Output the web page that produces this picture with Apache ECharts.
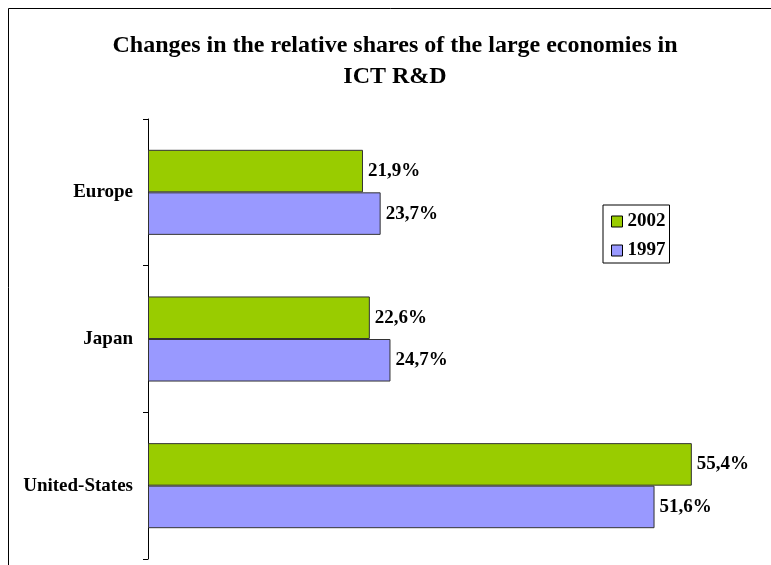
<!DOCTYPE html>
<html><head><meta charset="utf-8">
<script src="https://cdn.jsdelivr.net/npm/echarts@6/dist/echarts.min.js"></script>
<style>html,body{margin:0;padding:0;background:#fff}#c{width:771px;height:565px}</style>
</head><body><div id="c"></div>
<script>
const categories = ['United-States', 'Japan', 'Europe'];
const values1997 = [51.6, 24.7, 23.7];
const values2002 = [55.4, 22.6, 21.9];
const seriesNames = ['2002', '1997'];
const titleText = 'Changes in the relative shares of the large economies in\nICT R&D';

const FONT = '"Liberation Serif","Times New Roman",serif';
const fmt = p => p.value.toFixed(1).replace('.', ',') + '%';
const labelStyle = {show: true, position: 'right', distance: 5, formatter: fmt, fontFamily: FONT, fontWeight: 'bold', fontSize: 19, color: '#000'};
const chart = echarts.init(document.getElementById('c'));
chart.setOption({
  backgroundColor: '#fff',
  animation: false,
  graphic: [
    {type: 'rect', shape: {x: 8.5, y: 8.5, width: 800, height: 600}, style: {fill: 'none', stroke: '#000', lineWidth: 1}},
    {type: 'text', x: 395, y: 31, style: {text: titleText, align: 'center', verticalAlign: 'top',
      fontFamily: FONT, fontWeight: 'bold', fontSize: 24, lineHeight: 30.5, fill: '#000'}}
  ],
  legend: {
    data: seriesNames,
    orient: 'vertical',
    left: 603, top: 205,
    icon: 'rect',
    itemWidth: 11, itemHeight: 11, itemGap: 10,
    padding: [7, 4, 3, 8],
    borderColor: '#000', borderWidth: 1,
    textStyle: {fontFamily: FONT, fontWeight: 'bold', fontSize: 19, color: '#000'},
    itemStyle: {borderColor: '#000', borderWidth: 1}
  },
  grid: {left: 148, top: 119, width: 589, height: 440, containLabel: false},
  xAxis: {type: 'value', min: 0, max: 60, show: false},
  yAxis: {
    type: 'category', data: categories,
    axisLine: {lineStyle: {color: '#000', width: 1}},
    axisTick: {show: true, length: 5, lineStyle: {color: '#000'}},
    axisLabel: {fontFamily: FONT, fontWeight: 'bold', fontSize: 19, color: '#000', margin: 15},
    splitLine: {show: false}
  },
  series: [
    {name: '2002', type: 'bar', data: values2002, barCategoryGap: '42%', barGap: '0%',
     itemStyle: {color: '#99CC00', borderColor: '#333', borderWidth: 1},
     label: labelStyle},
    {name: '1997', type: 'bar', data: values1997, barCategoryGap: '42%', barGap: '0%',
     itemStyle: {color: '#9999FF', borderColor: '#333', borderWidth: 1},
     label: labelStyle}
  ]
});
</script></body></html>
